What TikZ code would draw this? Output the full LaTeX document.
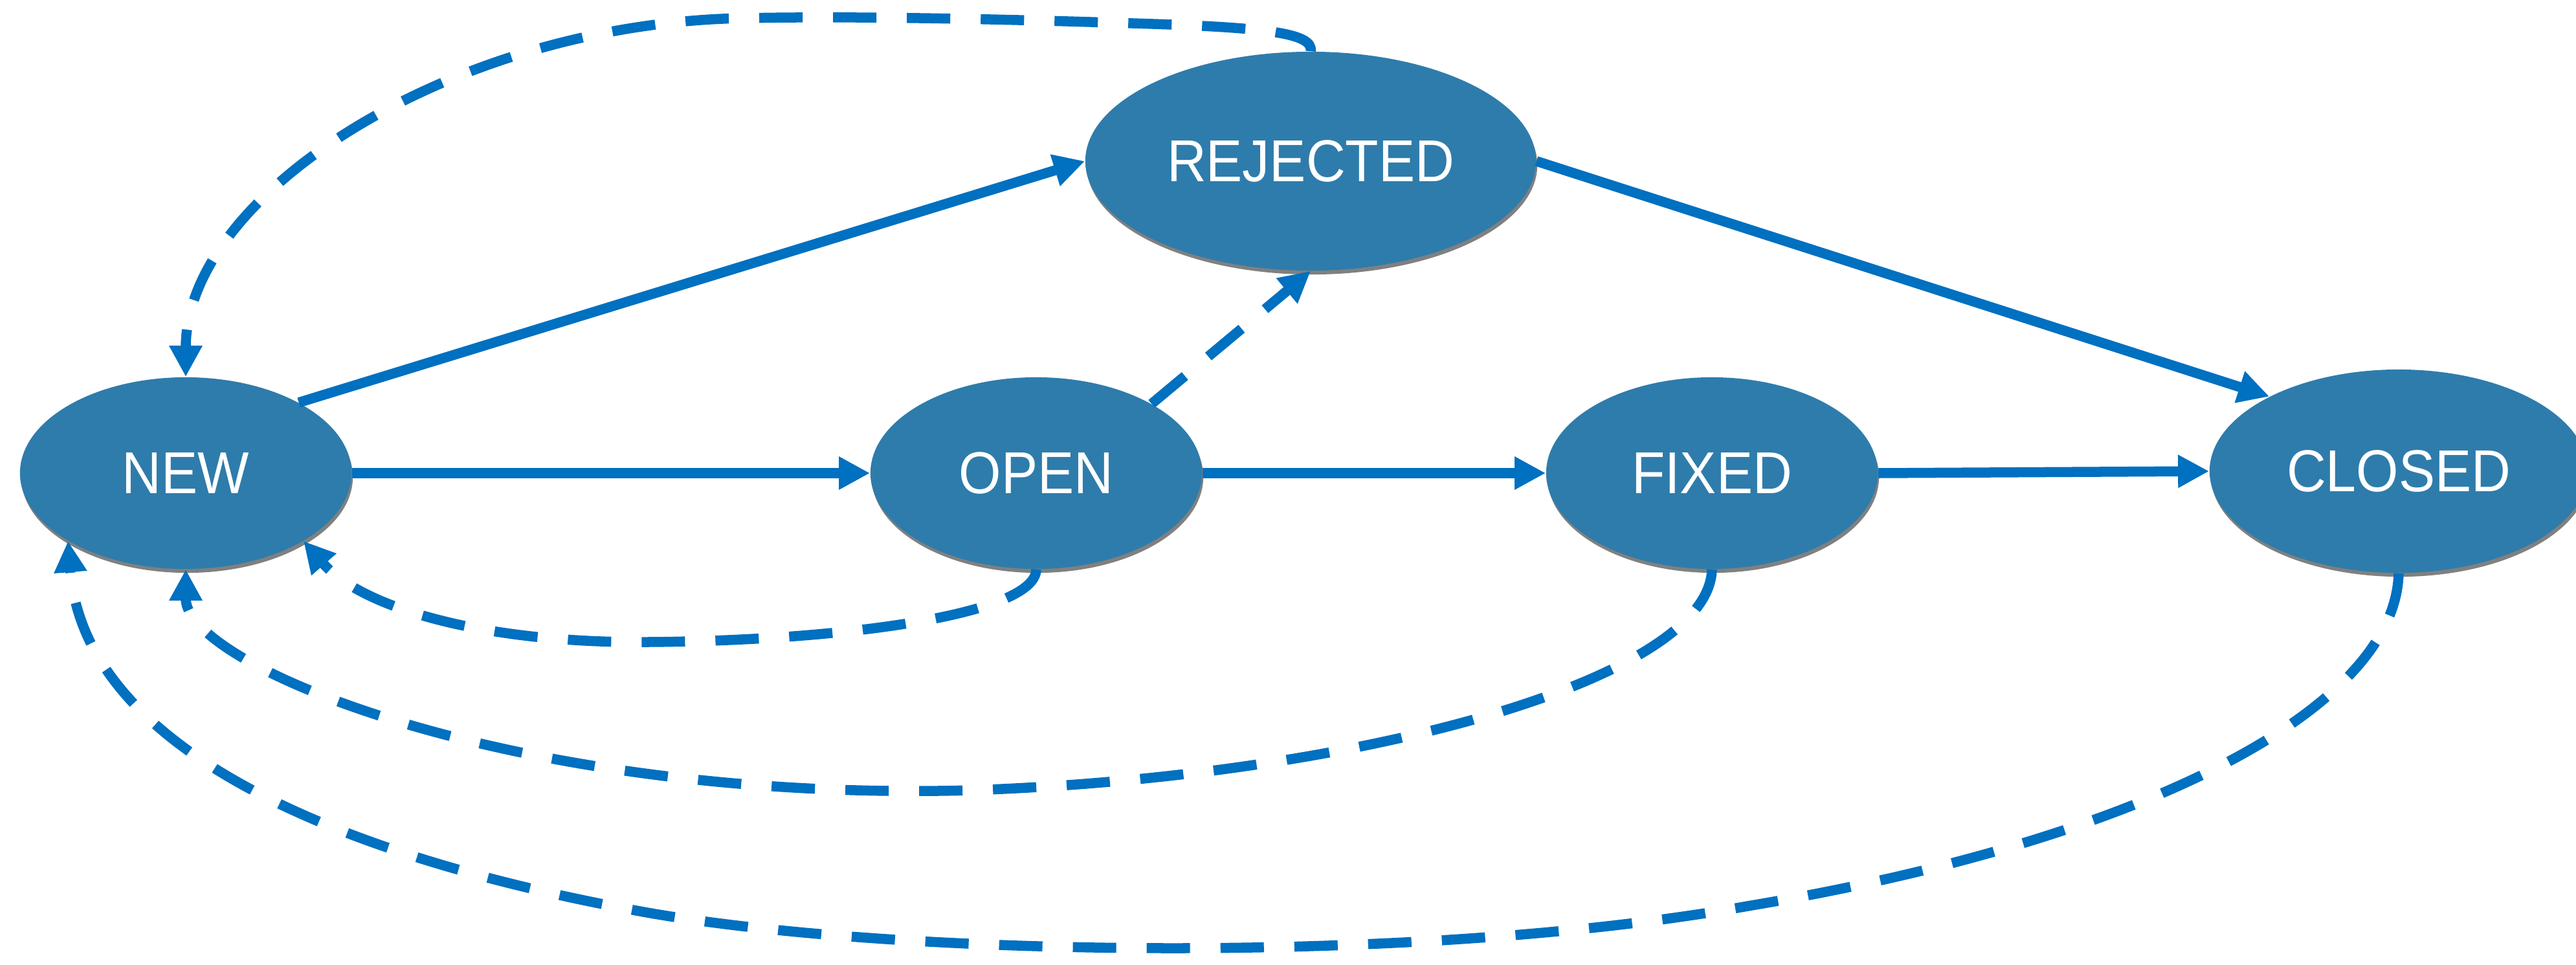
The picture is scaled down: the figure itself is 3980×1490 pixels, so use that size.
\documentclass[tikz,border=0pt]{standalone}
\usepackage{fontspec}
\usepackage{graphicx}
\setmainfont{Liberation Sans}
\usetikzlibrary{shapes.geometric,arrows.meta,shadows}
\definecolor{nodefill}{RGB}{46,124,171}
\definecolor{linkblue}{RGB}{0,112,192}
\newcommand{\statelabel}[1]{\scalebox{0.92}[1]{#1}}
\begin{document}
\begin{tikzpicture}[x=0.01cm,y=-0.01cm,
  state/.style={ellipse, fill=nodefill, draw=none, inner sep=0pt, text=white,
    font=\fontsize{26}{30}\selectfont,
    drop shadow={shadow xshift=0.02cm, shadow yshift=-0.06cm, fill=black!50, opacity=1}},
  link/.style={draw=linkblue, line width=0.155cm, -{Triangle[length=0.48cm,width=0.48cm]}},
  back/.style={link, dash pattern=on 0.67cm off 0.47cm}]
\useasboundingbox (0,0) rectangle (3980,1490);
\node[state, minimum width=5.12cm, minimum height=2.96cm] (new) at (287,731) {\statelabel{NEW}};
\node[state, minimum width=5.12cm, minimum height=2.96cm] (open) at (1601,731) {\statelabel{OPEN}};
\node[state, minimum width=5.12cm, minimum height=2.96cm] (fixed) at (2645,731) {\statelabel{FIXED}};
\node[state, minimum width=5.84cm, minimum height=3.14cm] (closed) at (3706,728) {\statelabel{CLOSED}};
\node[state, minimum width=6.96cm, minimum height=3.38cm] (rej) at (2025,249) {\statelabel{REJECTED}};
% solid transitions
\draw[link] (new.32) -- (rej.west);
\draw[link] (rej.east) -- (closed.150);
\draw[link] (new.east) -- (open.west);
\draw[link] (open.east) -- (fixed.west);
\draw[link] (fixed.east) -- (closed.west);
% dashed transitions
\draw[back] (open.31) -- (rej.south);
\draw[back] (rej.north) .. controls (2030,50) and (1950,42) .. (1750,36)
  .. controls (1500,28) and (1300,25) .. (1150,28)
  .. controls (700,35) and (287,300) .. (new.north);
\draw[back] (open.south) .. controls (1600,950) and (1300,990) .. (1000,992)
  .. controls (750,994) and (560,940) .. (new.-30);
\draw[back] (fixed.south) .. controls (2640,1050) and (2100,1200) .. (1500,1221)
  .. controls (800,1240) and (287,1030) .. (new.south);
\draw[back] (closed.south) .. controls (3700,1100) and (3300,1300) .. (2700,1400)
  .. controls (2200,1490) and (1400,1480) .. (1000,1410)
  .. controls (500,1320) and (130,1150) .. (new.210);
\end{tikzpicture}
\end{document}
